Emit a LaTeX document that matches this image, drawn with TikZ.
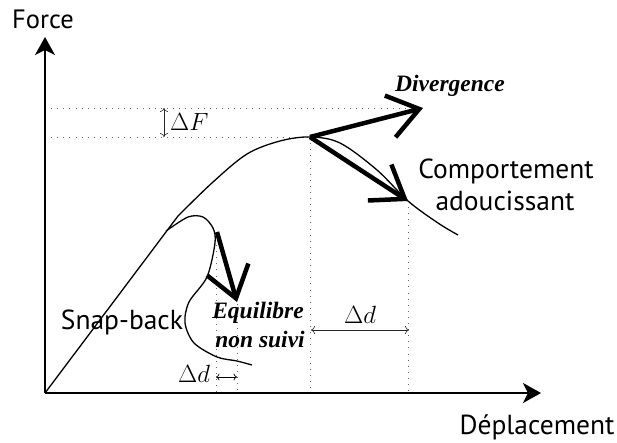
\documentclass[tikz,border=0pt]{standalone}
\usepackage{fontspec}
\newfontfamily\labelsans{PT Sans}
\newfontfamily\labelserif{Liberation Serif}
\usetikzlibrary{arrows.meta}
\tikzset{
  axis/.style={line width=1.8pt, -{Stealth[length=18pt,width=20pt,inset=5pt]}},
  curve/.style={line width=1.3pt, line join=round},
  bigarrow/.style={line width=4.5pt, -{Straight Barb[length=30pt,width=43pt,line width=4.5pt]}},
  guide/.style={gray!80!black, line width=0.9pt, dash pattern=on 0.9pt off 5.2pt},
  dimarrow/.style={line width=0.6pt, gray!30!black, {To[length=4pt,width=8pt]}-{To[length=4pt,width=8pt]}},
  sanslabel/.style={font=\labelsans\fontsize{27.5}{31}\selectfont, inner sep=0pt, anchor=base},
  biglabel/.style={font=\labelserif\bfseries\itshape\fontsize{23.5}{27}\selectfont, inner sep=0pt, anchor=base},
  mathlabel/.style={font=\fontsize{24}{28}\selectfont, inner sep=0pt, anchor=base}
}
\begin{document}
\begin{tikzpicture}[x=1pt,y=-1pt]
\useasboundingbox (0,0) rectangle (617,442);
% key points
\coordinate (O) at (45,393);
\coordinate (Ytip) at (45,37);
\coordinate (Xtip) at (541,393);
\coordinate (peak) at (310,137);
\coordinate (divtip) at (423,108);
\coordinate (softtip) at (408,201);
\coordinate (snapstart) at (217,232);
\coordinate (snaptip) at (237,302);
% guides
\draw[guide] (O |- divtip) -- (divtip);
\draw[guide] (O |- peak) -- (peak);
\draw[guide] (peak) -- (peak |- O);
\draw[guide] (softtip) -- (softtip |- O);
\coordinate (sd1) at (216,245);
\coordinate (sd2) at (237,304);
\draw[guide] (sd1) -- (sd1 |- O);
\draw[guide] (sd2) -- (sd2 |- O);
% axes
\draw[axis] (O) -- (Ytip);
\draw[axis] (O) -- (Xtip);
% main curve
\draw[curve] (O) -- (178,216) plot[smooth, tension=0.55] coordinates {(178,216) (213,182) (247,154) (280,141) (310,137) (340,143) (377,170) (408,201) (438,223) (458,235)};
% snap-back curve
\draw[curve] plot[smooth, tension=0.5] coordinates {(166,231) (188,217) (203,217) (213,228) (215,243) (207,277) (189,302) (185,323) (194,343) (217,357) (237,361) (252,365)};
% thick arrows
\draw[bigarrow] (peak) -- (divtip);
\draw[bigarrow] (peak) -- (softtip);
\draw[bigarrow] (snapstart) -- (snaptip);
% dimension arrows
\coordinate (dF1) at (164,108);
\coordinate (dF2) at (164,137);
\draw[dimarrow] (dF1) -- (dF2);
\coordinate (dd1) at (311,330);
\coordinate (dd2) at (409,330);
\draw[dimarrow] (dd1) -- (dd2);
\coordinate (ds1) at (216,377);
\coordinate (ds2) at (237,377);
\draw[line width=0.7pt, {To[length=3.5pt,width=7pt]}-{To[length=3.5pt,width=7pt]}] (ds1) -- (ds2);
% labels
\node[sanslabel, font=\labelsans\fontsize{26.5}{30}\selectfont] (force) at (43,28) {Force};
\node[sanslabel] (depl) at (537,434) {Déplacement};
\node[sanslabel] (snap) at (122,329) {Snap-back};
\node[sanslabel] (comp) at (506,178) {Comportement};
\node[sanslabel] (adou) at (505,210) {adoucissant};
\node[biglabel] (div) at (450,91) {Divergence};
\node[biglabel] (equi) at (258,318) {Equilibre};
\node[biglabel] (nons) at (260,347) {non suivi};
\node[mathlabel, anchor=base west] (dF) at (170,130) {$\Delta F$};
\node[mathlabel] (ddbig) at (360,323) {$\Delta d$};
\node[mathlabel] (ddsmall) at (194,382) {$\Delta d$};
\end{tikzpicture}
\end{document}
